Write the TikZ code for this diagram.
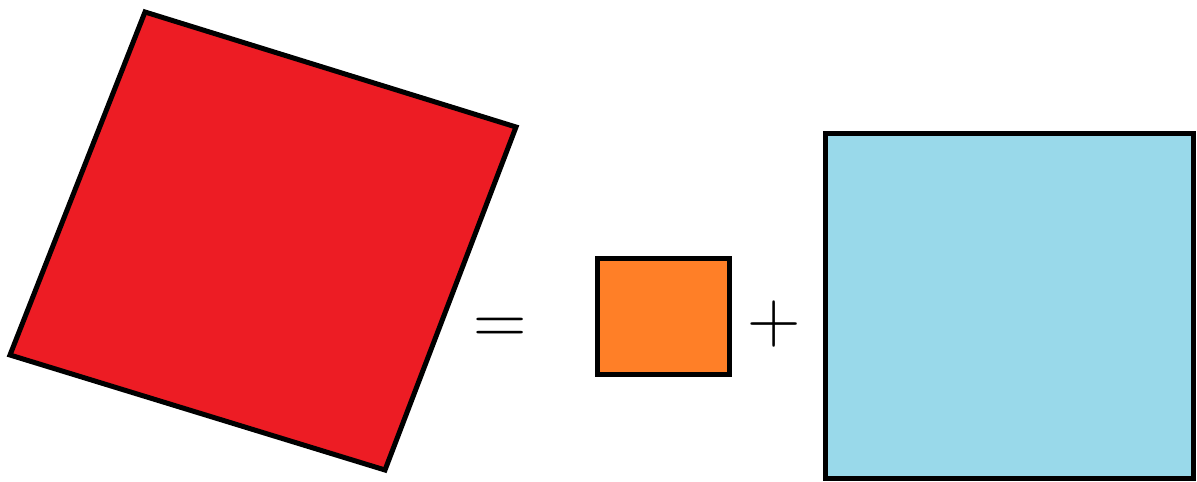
\documentclass[tikz,border=0pt]{standalone}
\usepackage{tikz}
\usepackage{xcolor}
\definecolor{paintred}{RGB}{237,28,36}
\definecolor{paintorange}{RGB}{255,127,39}
\definecolor{paintblue}{RGB}{153,217,234}

\begin{document}
\begin{tikzpicture}[x=0.5pt,y=-0.5pt,line join=miter,
    sq/.style={draw=black,line width=2.5pt},
    op/.style={inner sep=0pt,font=\fontsize{37}{43}\selectfont}]
  \useasboundingbox (0,0) rectangle (1197,481);
  \coordinate (R0) at (145,12);
  \coordinate (R1) at (516,127);
  \coordinate (R2) at (385,470);
  \coordinate (R3) at (10,355);
  \filldraw[sq,fill=paintred] (R0)--(R1)--(R2)--(R3)--cycle;
  \node[op] (eq) at (500.5,331.5) {=};
  \filldraw[sq,fill=paintorange] (597.5,258.5) rectangle (729.5,374.5);
  \node[op] (plus) at (774.5,324.5) {+};
  \filldraw[sq,fill=paintblue] (825,133) rectangle (1193,478.5);
\end{tikzpicture}
\end{document}
